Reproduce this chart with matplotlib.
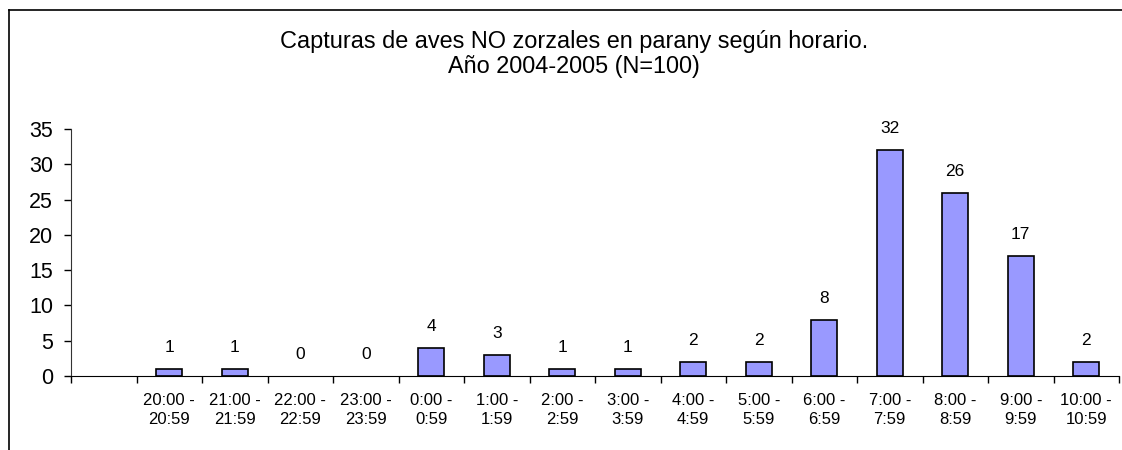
import matplotlib
matplotlib.use("Agg")
import matplotlib.pyplot as plt
from matplotlib.lines import Line2D
import numpy as np

plt.rcParams["font.family"] = ["Liberation Sans", "DejaVu Sans"]

# first category is empty in the original sheet
categories = ["", "20:00 -\n20:59", "21:00 -\n21:59", "22:00 -\n22:59", "23:00 -\n23:59",
              "0:00 -\n0:59", "1:00 -\n1:59", "2:00 -\n2:59", "3:00 -\n3:59",
              "4:00 -\n4:59", "5:00 -\n5:59", "6:00 -\n6:59", "7:00 -\n7:59",
              "8:00 -\n8:59", "9:00 -\n9:59", "10:00 -\n10:59"]
captures = [None, 1, 1, 0, 0, 4, 3, 1, 1, 2, 2, 8, 32, 26, 17, 2]
yticks = [0, 5, 10, 15, 20, 25, 30, 35]

title = "Capturas de aves NO zorzales en parany según horario.\nAño 2004-2005 (N=100)"

W, H = 1122, 450
fig = plt.figure(figsize=(W / 100, H / 100), dpi=100)
ax = fig.add_axes([71 / W, 1 - 376 / H, (1119 - 71) / W, (376 - 129) / H])

x = np.arange(len(categories))
for xi, v in zip(x, captures):
    if v is None:
        continue
    # zero-height bars leave no visible outline in the original
    ax.bar(xi, v, width=0.4, color="#9999FF", edgecolor="black",
           linewidth=1.2 if v > 0 else 0)
    ax.annotate(str(v), (xi, v), xytext=(0, 10), textcoords="offset points",
                ha="center", va="bottom", fontsize=12.5)

ax.set_xlim(-0.5, len(categories) - 0.5)
ax.set_ylim(0, 35)
ax.set_yticks(yticks)
ax.tick_params(axis="y", labelsize=15.5, length=5, width=1, direction="out", pad=8)

ax.set_xticks(x)
ax.set_xticklabels(categories, fontsize=12, linespacing=1.4)
ax.set_xticks(np.arange(len(categories) + 1) - 0.5, minor=True)
ax.tick_params(axis="x", which="major", length=0, pad=12)
ax.tick_params(axis="x", which="minor", length=5, width=1, direction="out")

for s in ("top", "right"):
    ax.spines[s].set_visible(False)
ax.spines["left"].set_color("#333333")
ax.spines["bottom"].set_color("black")

fig.text(574 / W, 1 - 54 / H, title, ha="center", va="center", fontsize=16.9,
         linespacing=1.1)

# chart area border (clipped on right and bottom)
fig.add_artist(Line2D([9 / W, 9 / W], [0, 1 - 10 / H], transform=fig.transFigure,
                      color="black", linewidth=1.2))
fig.add_artist(Line2D([9 / W, 1], [1 - 10 / H, 1 - 10 / H], transform=fig.transFigure,
                      color="black", linewidth=1.2))

fig.savefig("out.png", dpi=100)
